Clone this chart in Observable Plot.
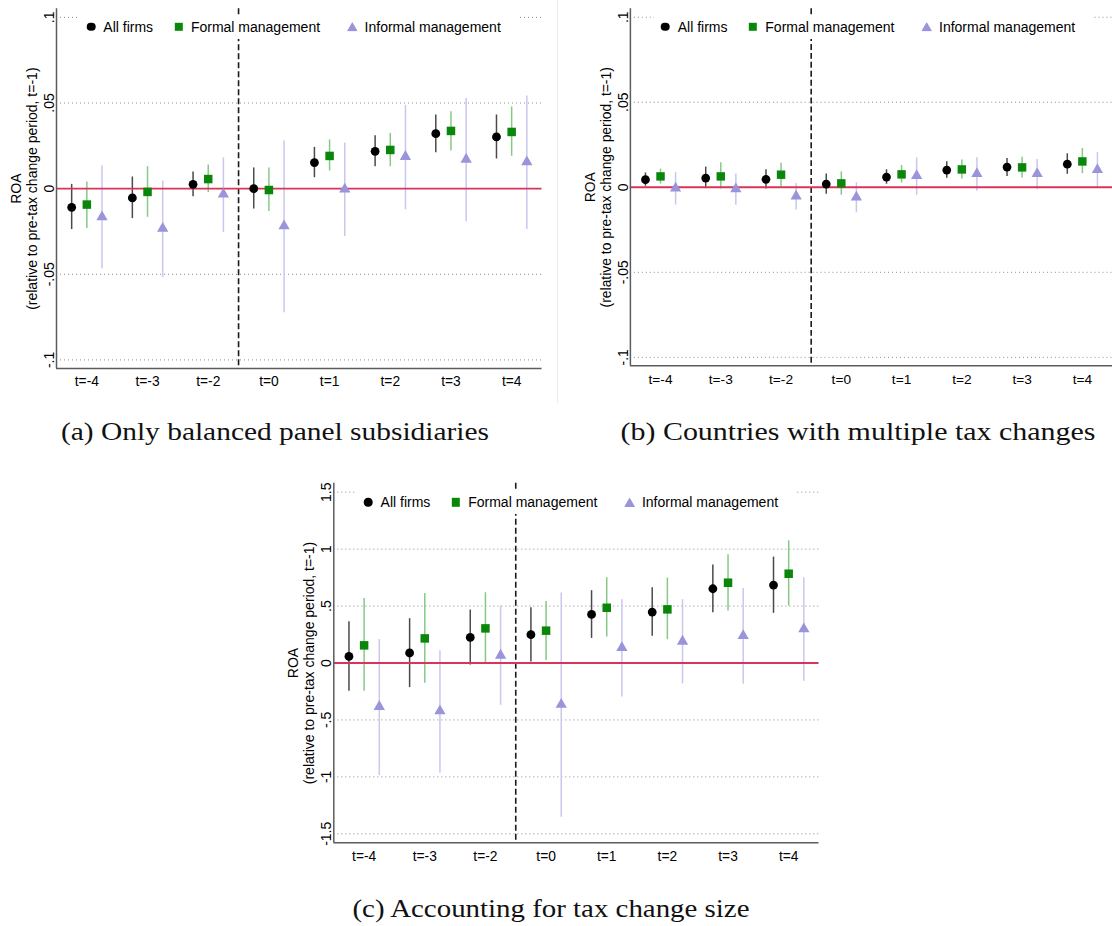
<!DOCTYPE html>
<html><head><meta charset="utf-8">
<script src="https://cdn.jsdelivr.net/npm/d3@7"></script>
<script src="https://cdn.jsdelivr.net/npm/@observablehq/plot@0.6"></script>
<style>
html,body{margin:0;padding:0;background:#fff;}
body{width:1112px;height:926px;position:relative;overflow:hidden;font-family:"Liberation Sans",Arial,sans-serif;}
.panel{position:absolute;overflow:hidden;}
.panel svg text{font-family:"Liberation Sans",Arial,sans-serif;}
.panel svg g[aria-label="x-axis tick label"], .panel svg g[aria-label="x-axis tick label"] text{font-size:13.8px !important;}
.panel svg g[aria-label="y-axis tick label"], .panel svg g[aria-label="y-axis tick label"] text{font-size:14px !important;}
.legbox{position:absolute;background:#fff;}
.legsym{position:absolute;transform:translate(-50%,-50%);}
.legtxt{position:absolute;transform:translateY(-50%);font-size:14px;line-height:16px;white-space:nowrap;color:#000;}
#overlay{position:absolute;left:0;top:0;pointer-events:none;}
</style></head><body>
<script>
// ---------- data ----------
const periods = ["t=-4","t=-3","t=-2","t=0","t=1","t=2","t=3","t=4"];
const seriesNames = ["All firms","Formal management","Informal management"];

// Panel (a) Only balanced panel subsidiaries
const aAllEst = [-0.0109,-0.0054,0.0025,0.0000,0.0152,0.0218,0.0321,0.0302];
const aAllLo  = [-0.0239,-0.0175,-0.0047,-0.0119,0.0064,0.0128,0.0210,0.0173];
const aAllHi  = [0.0025,0.0068,0.0097,0.0121,0.0241,0.0309,0.0430,0.0430];
const aFormEst = [-0.0093,-0.0019,0.0056,-0.0008,0.0191,0.0226,0.0337,0.0331];
const aFormLo  = [-0.0232,-0.0167,-0.0023,-0.0134,0.0103,0.0128,0.0220,0.0189];
const aFormHi  = [0.0039,0.0128,0.0138,0.0121,0.0284,0.0323,0.0449,0.0477];
const aInfEst = [-0.0165,-0.0233,-0.0033,-0.0218,-0.0004,0.0187,0.0171,0.0156];
const aInfLo  = [-0.0467,-0.0520,-0.0257,-0.0724,-0.0280,-0.0123,-0.0193,-0.0239];
const aInfHi  = [0.0132,0.0045,0.0179,0.0280,0.0267,0.0486,0.0527,0.0541];

// Panel (b) Countries with multiple tax changes
const bAllEst = [0.0045,0.0054,0.0047,0.0019,0.0060,0.0101,0.0119,0.0136];
const bAllLo  = [0.0006,-0.0008,-0.0010,-0.0041,0.0018,0.0053,0.0064,0.0076];
const bAllHi  = [0.0084,0.0119,0.0103,0.0078,0.0103,0.0150,0.0169,0.0197];
const bFormEst = [0.0064,0.0064,0.0074,0.0023,0.0076,0.0105,0.0117,0.0152];
const bFormLo  = [0.0019,-0.0010,0.0002,-0.0047,0.0025,0.0049,0.0054,0.0080];
const bFormHi  = [0.0107,0.0144,0.0142,0.0091,0.0128,0.0161,0.0177,0.0228];
const bInfEst = [-0.0006,-0.0010,-0.0053,-0.0058,0.0068,0.0080,0.0080,0.0103];
const bInfLo  = [-0.0105,-0.0105,-0.0134,-0.0150,-0.0047,-0.0023,-0.0014,-0.0004];
const bInfHi  = [0.0086,0.0078,0.0023,0.0027,0.0173,0.0173,0.0163,0.0204];

// Panel (c) Accounting for tax change size
const cAllEst = [0.058,0.088,0.225,0.249,0.427,0.447,0.652,0.684];
const cAllLo  = [-0.249,-0.216,-0.018,0.009,0.216,0.234,0.442,0.436];
const cAllHi  = [0.363,0.389,0.465,0.485,0.635,0.661,0.860,0.930];
const cFormEst = [0.155,0.216,0.304,0.284,0.485,0.471,0.705,0.784];
const cFormLo  = [-0.249,-0.178,-0.009,0.023,0.228,0.205,0.456,0.500];
const cFormHi  = [0.567,0.611,0.617,0.541,0.749,0.746,0.950,1.073];
const cInfEst = [-0.383,-0.421,0.067,-0.365,0.134,0.190,0.240,0.298];
const cInfLo  = [-0.988,-0.968,-0.371,-1.354,-0.298,-0.184,-0.187,-0.161];
const cInfHi  = [0.205,0.108,0.500,0.614,0.556,0.556,0.655,0.749];

const abTicks = [-0.1,-0.05,0,0.05,0.1];
const abTickLabels = ["-.1","-.05","0",".05",".1"];
const cTicks = [-1.5,-1,-0.5,0,0.5,1,1.5];
const cTickLabels = ["-1.5","-1","-.5","0",".5","1","1.5"];

const yTitle = "ROA\n(relative to pre-tax change period, t=-1)";
const captions = ["(a) Only balanced panel subsidiaries","(b) Countries with multiple tax changes","(c) Accounting for tax change size"];

// ---------- style ----------
const markerColors = ["#000000","#0a870a","#9a94da"];
const barColors = ["#4a4a4a","#86c986","#cac7ee"];
const symbols = ["circle","square","triangle"];
const radii = [4.4,4.8,4.2];
const offsets = [-0.25,0,0.25];
const refColor = "#d9345a";

function makePanel(cfg){
  const series = cfg.series;
  const rowsBy = series.map((s, si) => s.est.map((v, i) => ({
    period: periods[i], series: seriesNames[si], pos: i + 1 + offsets[si], est: v, lo: s.lo[i], hi: s.hi[i]
  })));
  const labelMap = new Map(cfg.ticks.map((t, i) => [t, cfg.tickLabels[i]]));
  const xDomain = [0.5, periods.length + 0.5];
  const marks = [
    Plot.gridY(cfg.ticks, {stroke: "#8c8c8c", strokeOpacity: 1, strokeWidth: 1, strokeDasharray: "1,3"}),
    Plot.ruleX([3.5], {stroke: "#1a1a1a", strokeWidth: 1.6, strokeDasharray: "6,3"})
  ];
  rowsBy.forEach((rows, si) => {
    marks.push(Plot.ruleX(rows, {x: "pos", y1: "lo", y2: "hi", stroke: barColors[si], strokeWidth: 1.5}));
  });
  marks.push(Plot.ruleY([0], {stroke: refColor, strokeWidth: 1.9}));
  rowsBy.forEach((rows, si) => {
    marks.push(Plot.dot(rows, {x: "pos", y: "est", symbol: symbols[si], r: radii[si], fill: markerColors[si]}));
  });
  marks.push(
    Plot.ruleX([xDomain[0]], {stroke: "#5c5c5c", strokeWidth: 1.5}),
    Plot.ruleY([cfg.yDomain[0]], {stroke: "#5c5c5c", strokeWidth: 1.5}),
    Plot.axisY({ticks: cfg.ticks, tickFormat: d => labelMap.get(d), tickRotate: -90, tickSize: 0, tickPadding: 2.5, fontSize: 14, label: null}),
    Plot.axisX({ticks: d3.range(1, periods.length + 1), tickFormat: d => periods[d - 1], tickSize: 0, tickPadding: 8, fontSize: 13.8, label: null}),
    Plot.text([yTitle], {frameAnchor: "left", text: d => d, rotate: -90, dx: -33, lineHeight: 1.15, fontSize: 14, textAnchor: "middle", lineAnchor: "middle", fill: "#000"})
  );
  const svg = Plot.plot({
    width: cfg.width, height: cfg.height,
    marginLeft: cfg.ml, marginRight: cfg.mr, marginTop: cfg.mt, marginBottom: cfg.mb,
    x: {type: "linear", domain: xDomain},
    y: {type: "linear", domain: cfg.yDomain},
    style: {fontFamily: "Liberation Sans, Arial, sans-serif", fontSize: "14px", color: "#000", background: "transparent", overflow: "visible"},
    marks
  });
  const div = document.createElement("div");
  div.className = "panel";
  div.style.left = cfg.left + "px"; div.style.top = cfg.top + "px";
  div.style.width = cfg.clipW + "px"; div.style.height = cfg.height + "px";
  div.appendChild(svg);
  document.body.appendChild(div);

  // legend (HTML, white box over the plot)
  const axisX = cfg.left + cfg.ml;
  const rowY = cfg.top + cfg.mt + cfg.legendDy;
  const box = document.createElement("div");
  box.className = "legbox";
  box.style.left = (axisX + 24) + "px"; box.style.top = (rowY - 12) + "px";
  box.style.width = "438px"; box.style.height = "24px";
  document.body.appendChild(box);
  const symOffsets = [35, 122.6, 296.3];
  seriesNames.forEach((name, si) => {
    const cx = axisX + symOffsets[si];
    const sym = document.createElement("div");
    sym.className = "legsym";
    sym.style.left = cx + "px"; sym.style.top = rowY + "px";
    sym.style.background = markerColors[si];
    if (si === 0) { sym.style.width = "8.6px"; sym.style.height = "8.6px"; sym.style.borderRadius = "50%"; }
    else if (si === 1) { sym.style.width = "8.4px"; sym.style.height = "8.4px"; }
    else { sym.style.width = "11px"; sym.style.height = "9.5px"; sym.style.clipPath = "polygon(50% 0,100% 100%,0 100%)"; }
    document.body.appendChild(sym);
    const t = document.createElement("div");
    t.className = "legtxt";
    t.textContent = name;
    t.style.left = (cx + 12.3) + "px"; t.style.top = rowY + "px";
    document.body.appendChild(t);
  });
}

makePanel({left: 0, top: 0, width: 557, clipW: 557, height: 400, ml: 56, mr: 15.5, mt: 8.3, mb: 32, legendDy: 18.4,
  yDomain: [-0.105, 0.105], ticks: abTicks, tickLabels: abTickLabels,
  series: [{est: aAllEst, lo: aAllLo, hi: aAllHi}, {est: aFormEst, lo: aFormLo, hi: aFormHi}, {est: aInfEst, lo: aInfLo, hi: aInfHi}]});

makePanel({left: 560, top: 0, width: 556, clipW: 552, height: 400, ml: 70.4, mr: 0, mt: 8.3, mb: 32, legendDy: 18.4,
  yDomain: [-0.105, 0.105], ticks: abTicks, tickLabels: abTickLabels,
  series: [{est: bAllEst, lo: bAllLo, hi: bAllHi}, {est: bFormEst, lo: bFormLo, hi: bFormHi}, {est: bInfEst, lo: bInfLo, hi: bInfHi}]});

makePanel({left: 270, top: 470, width: 560, clipW: 560, height: 400, ml: 63.3, mr: 11.5, mt: 12.7, mb: 27.7, legendDy: 19.6,
  yDomain: [-1.579, 1.579], ticks: cTicks, tickLabels: cTickLabels,
  series: [{est: cAllEst, lo: cAllLo, hi: cAllHi}, {est: cFormEst, lo: cFormLo, hi: cFormHi}, {est: cInfEst, lo: cInfLo, hi: cInfHi}]});

// captions + faint separator
const ns = "http://www.w3.org/2000/svg";
const ov = document.createElementNS(ns, "svg");
ov.setAttribute("id", "overlay"); ov.setAttribute("width", 1112); ov.setAttribute("height", 926);
const sep = document.createElementNS(ns, "line");
sep.setAttribute("x1", 557.5); sep.setAttribute("x2", 557.5); sep.setAttribute("y1", 0); sep.setAttribute("y2", 403);
sep.setAttribute("stroke", "#e4ecee"); sep.setAttribute("stroke-width", 1);
ov.appendChild(sep);
const capPos = [{x: 275, y: 440, w: 428}, {x: 858, y: 440, w: 475}, {x: 551, y: 917, w: 397}];
captions.forEach((c, i) => {
  const t = document.createElementNS(ns, "text");
  t.textContent = c;
  t.setAttribute("x", capPos[i].x); t.setAttribute("y", capPos[i].y);
  t.setAttribute("text-anchor", "middle");
  t.setAttribute("font-family", "Liberation Serif, Times New Roman, serif");
  t.setAttribute("font-size", 25);
  t.setAttribute("textLength", capPos[i].w);
  t.setAttribute("lengthAdjust", "spacingAndGlyphs");
  t.setAttribute("fill", "#111");
  ov.appendChild(t);
});
document.body.appendChild(ov);
</script>
</body></html>
